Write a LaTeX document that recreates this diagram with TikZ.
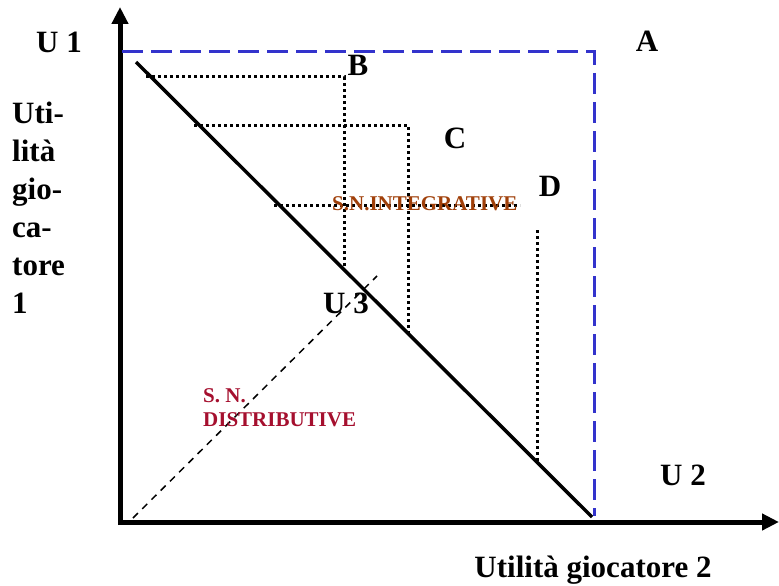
\documentclass[tikz,border=0pt]{standalone}
\usepackage{fontspec}
\setmainfont{Liberation Serif}
\usetikzlibrary{arrows.meta,positioning}
\definecolor{idealblue}{HTML}{3333CC}
\definecolor{integrbrown}{HTML}{A0400A}
\definecolor{distrred}{HTML}{A50F2E}

\begin{document}
\begin{tikzpicture}[x=1pt, y=-1pt,
  axis/.style={line width=5pt, -{Triangle[length=17pt, width=16pt]}},
  frontier/.style={line width=3.5pt},
  ideal/.style={draw=idealblue, line width=3pt, dash pattern=on 21pt off 8pt},
  guide/.style={line width=3pt, dash pattern=on 3pt off 3pt},
  conflict/.style={line width=1.5pt, dash pattern=on 7pt off 6pt},
  big/.style={font=\fontsize{31}{38}\selectfont\bfseries, inner sep=0pt, anchor=base},
  tag/.style={font=\fontsize{21}{24}\selectfont\bfseries, inner sep=0pt}
]
\useasboundingbox (0,0) rectangle (779,586);

\coordinate (o) at (120,522);
\coordinate (ytop) at (120,7);
\coordinate (xend) at (779,522);
\coordinate (ybot) at (120,525);
\coordinate (xbeg) at (118,522);

\coordinate (u1max) at (122,52);
\coordinate (acorner) at (594,52);
\coordinate (u2max) at (594,516);
\coordinate (fstart) at (136,62);
\coordinate (fend) at (592,517);

\coordinate (b0) at (146,77);
\coordinate (b1) at (344,77);
\coordinate (b2) at (344,271);
\coordinate (c0) at (194,125);
\coordinate (c1) at (408,125);
\coordinate (c2) at (408,336);
\coordinate (d0) at (274,205);
\coordinate (d1) at (520,205);
\coordinate (d2) at (537,230);
\coordinate (d3) at (537,463);
\coordinate (s0) at (133,518);
\coordinate (s1) at (377,276);

\draw[axis] (ybot) -- (ytop);
\draw[axis] (xbeg) -- (xend);
\draw[ideal] (u1max) -- (acorner) -- (u2max);
\draw[frontier] (fstart) -- (fend);
\draw[guide] (b0) -- (b1) -- (b2);
\draw[guide] (c0) -- (c1) -- (c2);
\draw[guide] (d0) -- (d1);
\draw[guide] (d2) -- (d3);
\draw[conflict] (s0) -- (s1);

\node[big] (u1) at (59,53) {U 1};
\node[big, anchor=north west, align=left] (ylabel) at (12,102) {Uti-\\lità\\gio-\\ca-\\tore\\1};
\node[big] (pa) at (647,52) {A};
\node[big] (pb) at (358,75) {B};
\node[big] (pc) at (455,148) {C};
\node[big] (pd) at (550,196) {D};
\node[big] (u3) at (346,313) {U 3};
\node[big] (u2) at (683,485) {U 2};
\node[big] (xlabel) at (593,577) {Utilità giocatore 2};
\node[tag, text=integrbrown, anchor=base west] (integr) at (332,210) {S.N.INTEGRATIVE};
\node[tag, text=distrred, anchor=north west, align=left] (distr) at (203,388) {S. N.\\DISTRIBUTIVE};
\end{tikzpicture}
\end{document}
